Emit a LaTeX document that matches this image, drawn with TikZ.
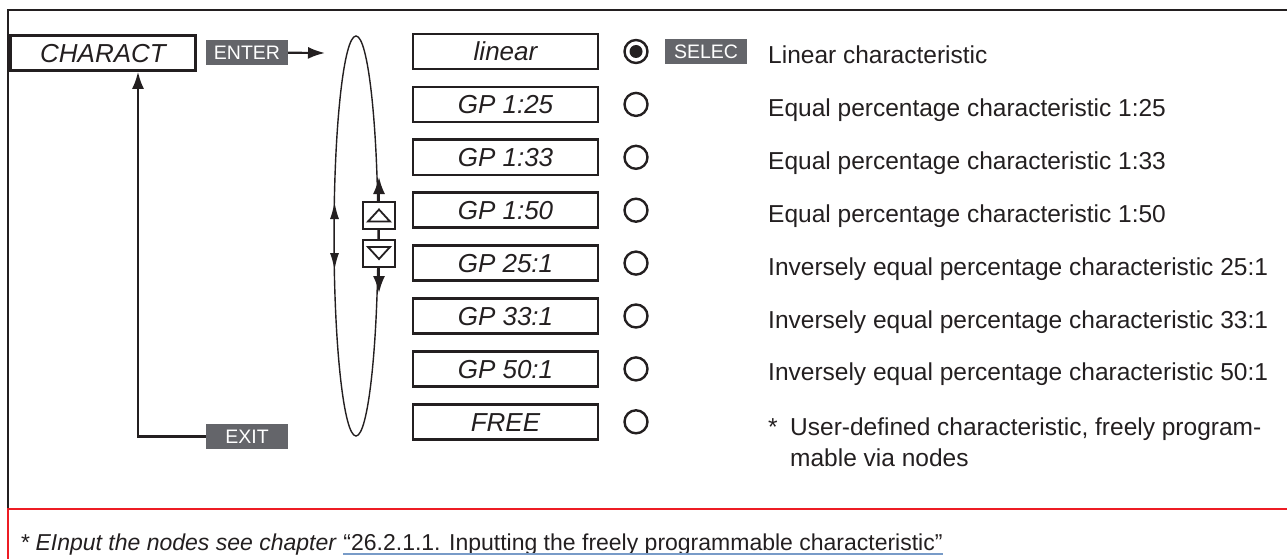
\documentclass[tikz,border=0pt]{standalone}
\usepackage{fontspec}
\setmainfont{Liberation Sans}
\usepackage{xcolor}
\usetikzlibrary{arrows.meta,shapes.geometric}
\definecolor{InkBlack}{RGB}{35,31,32}
\definecolor{KeyGray}{RGB}{100,101,106}
\definecolor{FrameRed}{RGB}{237,28,36}
\definecolor{LinkBlue}{RGB}{120,155,200}

\begin{document}
\begin{tikzpicture}[x=1pt, y=-1pt, >={Latex[length=17pt,width=12pt]},
    every node/.style={text=InkBlack},
    menubox/.style={draw=InkBlack, line width=2.6pt, minimum width=185pt,
        minimum height=35pt, inner sep=0pt, text height=18.5pt, text depth=0pt,
        font=\fontsize{26}{30}\selectfont\itshape},
    keybox/.style={fill=KeyGray, text=white, minimum width=82pt,
        minimum height=25pt, inner sep=0pt, font=\fontsize{19.5}{22}\selectfont},
    radio/.style={circle, draw=InkBlack, line width=2.4pt, minimum size=23pt, inner sep=0pt},
    arrowkey/.style={draw=InkBlack, fill=white, line width=2pt,
        minimum width=32pt, minimum height=27pt, inner sep=0pt},
    desc/.style={anchor=base west, inner sep=0pt, font=\fontsize{24.5}{31}\selectfont}]
    \useasboundingbox (0,0) rectangle (1287,559);

    % frame
    \draw[InkBlack, line width=1.8pt] (1287,10) -- (8,10) -- (8,509);
    \draw[FrameRed, line width=1.5pt] (1287,509) -- (8,509) -- (8,559);

    % menu entry
    \node[menubox] (charact) at (103,53) {CHARACT};
    \node[keybox] (enter) at (247,52.5) {ENTER};
    \node[keybox] (exit) at (247,436.5) {EXIT};
    \coordinate (ringIn) at (325,53);
    \draw[->, InkBlack, line width=2.2pt] (enter) -- (ringIn);
    \draw[->, InkBlack, line width=2.2pt] (exit.west) -| ([xshift=35pt]charact.south);

    % selection loop
    \node[ellipse, draw=InkBlack, line width=1.4pt, minimum width=44pt,
        minimum height=400pt, inner sep=0pt] (ring) at (356,236) {};
    \coordinate (ringUp) at (334.5,202);
    \coordinate (ringDown) at (334.5,270);
    \draw[{Latex[length=17pt,width=9pt]}-{Latex[length=17pt,width=9pt]}, InkBlack, line width=1.4pt]
        (ringDown) -- (ringUp);

    \node[arrowkey] (up) at (379,215.5) {};
    \node[arrowkey] (down) at (379,253) {};
    \draw[InkBlack, line width=2pt] (up) -- (down);
    \draw[InkBlack, line width=1.8pt] (up.center) ++(-11,6) -- ++(22,0) -- ++(-11,-12) -- cycle;
    \draw[InkBlack, line width=1.8pt] (down.center) ++(-11,-6) -- ++(22,0) -- ++(-11,12) -- cycle;
    \coordinate (ringTop) at (379,177);
    \coordinate (ringBot) at (379,293);
    \draw[->, InkBlack, line width=2pt] (up) -- (ringTop);
    \draw[->, InkBlack, line width=2pt] (down) -- (ringBot);

    % characteristics
    \foreach \lab/\txt [count=\i] in {linear/Linear characteristic,
        GP 1:25/Equal percentage characteristic 1:25,
        GP 1:33/Equal percentage characteristic 1:33,
        GP 1:50/Equal percentage characteristic 1:50,
        GP 25:1/Inversely equal percentage characteristic 25:1,
        GP 33:1/Inversely equal percentage characteristic 33:1,
        GP 50:1/Inversely equal percentage characteristic 50:1} {
        \pgfmathsetmacro\rowy{51.5+52.9*(\i-1)}
        \node[menubox] (opt\i) at (505.5,\rowy) {\lab};
        \node[radio] (rad\i) at (636,\rowy) {};
        \node[desc] (desc\i) at (768,\rowy+12) {\txt};
    }
    \fill[InkBlack] (rad1) circle (6.5pt);
    \node[keybox] (selec) at (706,52) {SELEC};

    \node[menubox] (opt8) at (505.5,421.8) {FREE};
    \node[radio] (rad8) at (636,421.8) {};
    \node[desc] (star) at (768,435) {*};
    \node[desc, align=left] (desc8) at (790,466)
        {User-defined characteristic, freely program-\\mable via nodes};

    % footnote
    \node[anchor=base west, inner sep=0pt, font=\fontsize{23}{27}\selectfont\itshape]
        (note) at (20,550) {* EInput the nodes see chapter};
    \node[anchor=base west, inner sep=0pt, font=\fontsize{23}{27}\selectfont]
        (link) at ([xshift=7pt]note.base east)
        {“26.2.1.1. Inputting the freely programmable characteristic”};
    \draw[LinkBlue, line width=2pt] ([yshift=-3.5pt]link.base west) -- ([yshift=-3.5pt]link.base east);
\end{tikzpicture}
\end{document}
